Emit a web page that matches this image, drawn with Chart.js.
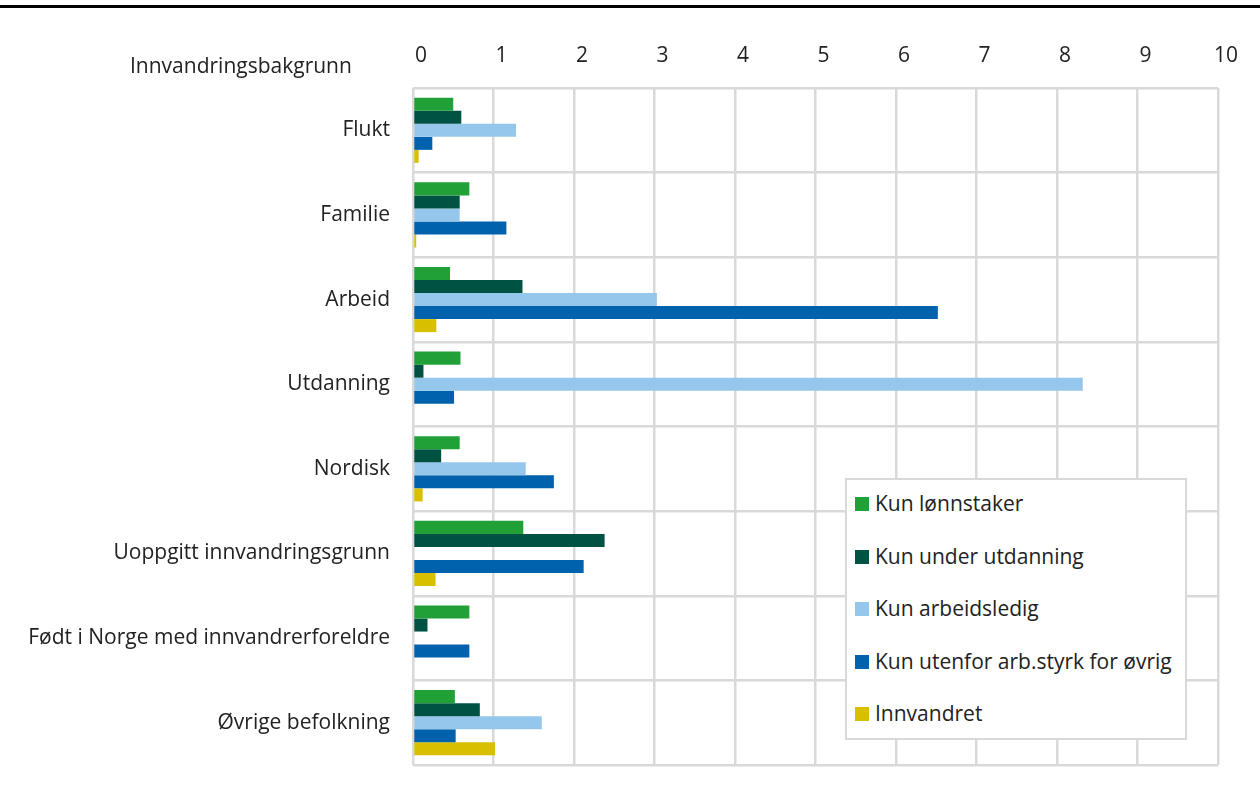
<!DOCTYPE html>
<html><head><meta charset="utf-8">
<script src="https://cdn.jsdelivr.net/npm/chart.js@4/dist/chart.umd.min.js"></script>
<style>
html,body{margin:0;padding:0;background:#fff;}
#wrap{position:relative;width:1260px;height:787px;font-family:"Open Sans",sans-serif;color:#222;}
#topline{position:absolute;left:0;top:5px;width:1260px;height:3px;background:#000;}
#ytitle{position:absolute;left:130px;top:51px;font-size:21px;line-height:28px;white-space:nowrap;}
#legend{position:absolute;left:845px;top:478px;width:342px;height:262px;border:2px solid #d9d9d9;background:#fff;box-sizing:border-box;}
.li{position:absolute;left:8px;font-size:21px;line-height:28px;white-space:nowrap;}
.li span.sw{display:inline-block;width:14px;height:14px;margin-right:6px;vertical-align:0px;}
canvas{position:absolute;left:0;top:0;}
</style></head>
<body><div id="wrap">
<canvas id="c" width="1260" height="787"></canvas>
<div id="topline"></div>
<div id="ytitle">Innvandringsbakgrunn</div>
<div id="legend"></div>
</div>
<script>
const categories = ["Flukt","Familie","Arbeid","Utdanning","Nordisk","Uoppgitt innvandringsgrunn","Født i Norge med innvandrerforeldre","Øvrige befolkning"];
const seriesNames = ["Kun lønnstaker","Kun under utdanning","Kun arbeidsledig","Kun utenfor arb.styrk for øvrig","Innvandret"];
const kunLonnstaker = [0.50,0.70,0.46,0.59,0.58,1.37,0.70,0.52];
const kunUnderUtdanning = [0.60,0.58,1.36,0.13,0.35,2.38,0.18,0.83];
const kunArbeidsledig = [1.28,0.58,3.03,8.32,1.40,0,0,1.60];
const kunUtenfor = [0.24,1.16,6.52,0.51,1.75,2.12,0.70,0.53];
const innvandret = [0.07,0.04,0.29,0,0.12,0.28,0,1.02];
const xTicks = [0,1,2,3,4,5,6,7,8,9,10];
const colors = ["#21a038","#005243","#95c7ed","#0062ad","#d8bf00"];
const seriesData = [kunLonnstaker,kunUnderUtdanning,kunArbeidsledig,kunUtenfor,innvandret];

const leg = document.getElementById('legend');
seriesNames.forEach((n,i)=>{
  const d=document.createElement('div');d.className='li';
  d.style.top=(9+i*52.5)+'px';
  d.innerHTML='<span class="sw" style="background:'+colors[i]+'"></span>'+n;
  leg.appendChild(d);
});

new Chart(document.getElementById('c'),{
  type:'bar',
  data:{labels:categories,datasets:seriesNames.map((n,i)=>({label:n,data:seriesData[i],backgroundColor:colors[i],borderWidth:0,barPercentage:1,categoryPercentage:0.77}))},
  options:{
    indexAxis:'y',responsive:false,animation:false,
    layout:{padding:{left:0,right:42,top:0,bottom:22}},
    plugins:{legend:{display:false},tooltip:{enabled:false}},
    scales:{
      x:{position:'top',min:0,max:10,
        afterFit:s=>{s.height=88;s.paddingLeft=0;s.paddingRight=0;},
        afterBuildTicks:s=>{s.ticks=xTicks.map(v=>({value:v}));},
        grid:{color:'#d9d9d9',lineWidth:2.5,drawTicks:false},
        border:{display:false},
        ticks:{color:'#222',font:{family:'Open Sans',size:21},padding:19,labelOffset:8}
      },
      y:{
        afterFit:s=>{s.width=413;s.paddingTop=0;s.paddingBottom=0;},
        grid:{color:'#d9d9d9',lineWidth:2.5,drawTicks:false,offset:true},
        border:{display:false},
        ticks:{color:'#222',font:{family:'Open Sans',size:21},padding:23}
      }
    }
  }
});
</script>
</body></html>
